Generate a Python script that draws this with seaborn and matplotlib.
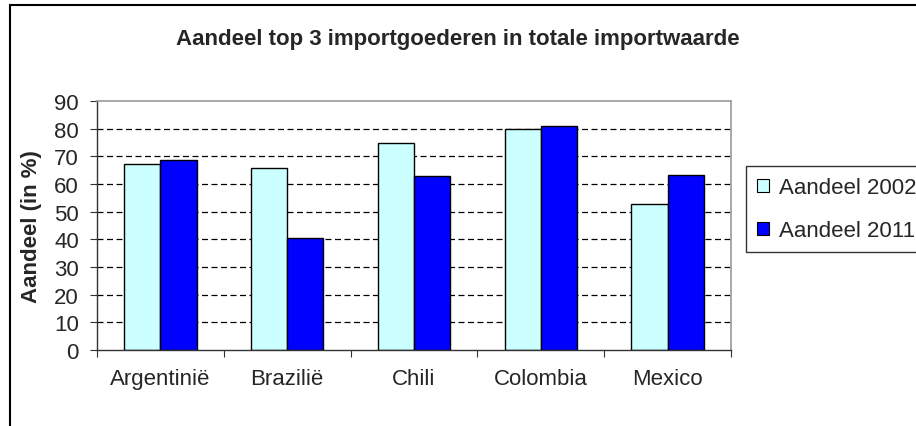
# Aandeel top 3 importgoederen - grouped bars, 2002 vs 2011
import matplotlib
matplotlib.use('Agg')
import matplotlib.pyplot as plt
import seaborn as sns
import pandas as pd
from matplotlib.patches import Rectangle
from matplotlib.ticker import MultipleLocator, FixedLocator

landen = ['Argentinië', 'Brazilië', 'Chili', 'Colombia', 'Mexico']
aandeel_2002 = [67.4, 65.9, 74.8, 79.7, 52.7]
aandeel_2011 = [68.6, 40.4, 62.9, 80.8, 63.4]
reeksen = ['Aandeel 2002', 'Aandeel 2011']

df = pd.DataFrame({'Land': landen, 'Aandeel 2002': aandeel_2002, 'Aandeel 2011': aandeel_2011})
mdf = pd.melt(df, id_vars=['Land'], var_name='Reeks', value_name='Aandeel')

sns.set_style('white')
plt.rcParams['font.family'] = ['Liberation Sans', 'DejaVu Sans']

W, H = 916, 427
fig = plt.figure(figsize=(W / 100, H / 100), dpi=100)
ax = fig.add_axes([97 / W, (H - 351) / H, (731 - 97) / W, (351 - 102) / H])

sns.barplot(data=mdf, x='Land', y='Aandeel', hue='Reeks', hue_order=reeksen,
            palette=['#CCFFFF', '#0000FF'], width=0.571, gap=0,
            edgecolor='black', linewidth=1.0, saturation=1, ax=ax, legend=False)

ax.set_ylim(0, 90)
ax.set_xlim(-0.5, len(landen) - 0.5)
ax.yaxis.set_major_locator(MultipleLocator(10))
ax.set_axisbelow(True)
for v in range(10, 90, 10):
    ax.axhline(v, color='black', lw=0.9, linestyle=(0, (4.8, 2.8)), zorder=0)

ax.set_xlabel('')
ax.set_ylabel('Aandeel (in %)', fontsize=16, fontweight='bold')
ax.yaxis.set_label_coords(-0.087, 0.5)

ax.tick_params(axis='y', which='major', direction='out', length=5, width=0.8,
               color='#333333', labelsize=16, pad=8, left=True)
ax.tick_params(axis='x', which='major', length=0, labelsize=16, pad=13)
ax.xaxis.set_minor_locator(FixedLocator([i - 0.5 for i in range(len(landen) + 1)]))
ax.tick_params(axis='x', which='minor', direction='out', length=5, width=0.8,
               color='#333333', bottom=True)

for s in ['left', 'bottom']:
    ax.spines[s].set_color('#333333')
    ax.spines[s].set_linewidth(1.0)
for s in ['top', 'right']:
    ax.spines[s].set_color('#999999')
    ax.spines[s].set_linewidth(1.2)

fig.text(0.5, 1 - 40 / H, 'Aandeel top 3 importgoederen in totale importwaarde',
         ha='center', va='center', fontsize=16, fontweight='bold')

handles = [Rectangle((0, 0), 1, 1, facecolor=c, edgecolor='black', lw=0.8)
           for c in ['#CCFFFF', '#0000FF']]
leg = fig.legend(handles, reeksen, loc='upper left',
                 bbox_to_anchor=(746 / W, 1 - 167 / H), fontsize=16,
                 frameon=True, fancybox=False, edgecolor='black',
                 handlelength=0.55, handleheight=0.55, handletextpad=0.45,
                 borderpad=0.5, labelspacing=1.0, borderaxespad=0)
leg.get_frame().set_linewidth(1.0)

fig.patches.append(Rectangle((10 / W, -0.2), 1.2, 1.2 - 6 / H, fill=False,
                             edgecolor='black', lw=1.5, transform=fig.transFigure))

fig.savefig('out.png', dpi=100, facecolor='white')
